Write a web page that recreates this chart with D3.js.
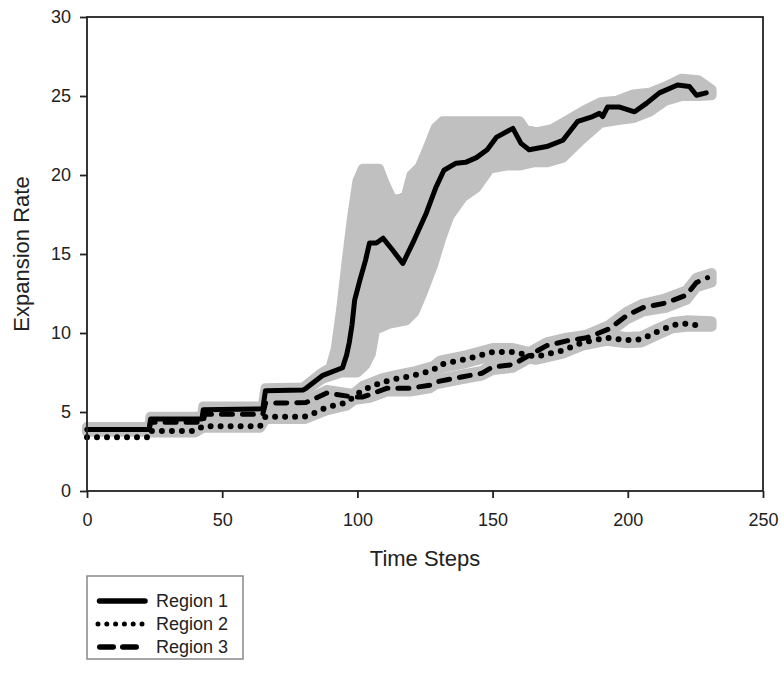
<!DOCTYPE html>
<html>
<head>
<meta charset="utf-8">
<script src="https://cdn.jsdelivr.net/npm/d3@7"></script>
<style>
  html, body { margin: 0; padding: 0; background: #fff; }
  svg { display: block; }
  text { font-family: "Liberation Sans", Arial, sans-serif; fill: #222; }
</style>
</head>
<body>
<svg id="chart" width="784" height="683"></svg>
<script>
// ---------------- data ----------------
const xTicks = [0, 50, 100, 150, 200, 250];
const yTicks = [0, 5, 10, 15, 20, 25, 30];
const seriesNames = ["Region 1", "Region 2", "Region 3"];

// Region 1 mean line
const r1T = [0, 23, 23.5, 42.5, 43, 65, 66, 80, 81, 87, 94.5, 96, 97, 98, 99, 101, 103, 104.5, 107, 109.5, 113, 116.8, 120.5, 125.5, 129, 132, 136.5, 140, 144, 148, 151.5, 157.5, 160.5, 163.5, 170, 176, 181.5, 187, 189.5, 190.7, 192.5, 197, 202.5, 207, 211.7, 218.4, 222.8, 225.4, 229];
const r1V = [3.9, 3.9, 4.55, 4.55, 5.15, 5.2, 6.35, 6.4, 6.5, 7.3, 7.8, 8.6, 9.4, 10.5, 12.1, 13.4, 14.6, 15.7, 15.7, 16.0, 15.25, 14.4, 15.7, 17.6, 19.2, 20.3, 20.75, 20.8, 21.1, 21.6, 22.4, 22.95, 22.0, 21.6, 21.8, 22.2, 23.4, 23.7, 23.9, 23.7, 24.3, 24.3, 24.0, 24.55, 25.2, 25.7, 25.6, 25.05, 25.2];
// Region 1 range (upper / lower bound)
const r1HiT = [0, 23, 23.5, 42.5, 43, 65, 66, 80, 87, 90, 92, 94, 96, 98, 100, 102, 108, 110, 113, 116, 118, 120, 123, 126, 129, 131.5, 160, 162, 166, 172, 178, 184, 190, 196, 202, 208, 214, 220, 226, 231];
const r1HiV = [4.05, 4.05, 4.7, 4.7, 5.35, 5.35, 6.5, 6.55, 7.5, 7.8, 9.0, 11.5, 14.5, 17.3, 19.6, 20.4, 20.4, 19.5, 18.4, 18.5, 18.7, 20.0, 20.5, 21.7, 23.0, 23.4, 23.4, 22.9, 22.7, 22.9, 23.5, 24.1, 24.6, 24.7, 25.1, 25.2, 25.6, 26.1, 26.0, 25.4];
const r1LoT = [0, 23, 23.5, 42.5, 43, 65, 66, 80, 87, 94, 100, 103, 105, 106.5, 112, 118, 121, 124, 128, 131, 134, 139, 144, 149, 155, 160, 165, 170, 176, 182, 190, 197, 202, 208, 214, 220, 226, 231];
const r1LoV = [3.75, 3.75, 4.4, 4.4, 5.0, 5.05, 6.2, 6.25, 7.1, 7.5, 7.5, 8.0, 8.7, 10.2, 10.6, 10.8, 11.3, 12.5, 14.3, 16.0, 17.4, 18.6, 19.2, 20.4, 20.6, 20.6, 20.8, 20.8, 21.1, 22.1, 23.3, 23.5, 23.6, 24.0, 24.7, 25.0, 25.0, 25.05];

// Region 2 mean line
const r2T = [0, 23, 23.5, 40, 43, 64, 66, 80.5, 83.6, 88.6, 96, 102, 109.5, 114.5, 120.5, 128, 130.5, 140.4, 150, 157.5, 166, 176, 183.3, 192, 199.6, 205, 210.6, 216.6, 221.7, 225.4];
const r2V = [3.4, 3.4, 3.8, 3.8, 4.1, 4.1, 4.7, 4.7, 4.9, 5.3, 5.6, 6.4, 6.9, 7.1, 7.3, 7.65, 8.0, 8.35, 8.8, 8.8, 8.5, 8.9, 9.4, 9.7, 9.55, 9.6, 10.06, 10.5, 10.6, 10.5];
// Region 2 range
const r2BandT  = [23.5, 40, 43, 64, 66, 80.5, 88.6, 96, 102, 109.5, 114.5, 120.5, 128, 130.5, 140.4, 150, 157.5, 166, 176, 183.3, 192, 199.6, 205, 210.6, 216.6, 221.7, 231];
const r2BandLo = [3.7, 3.7, 4.0, 4.0, 4.55, 4.55, 5.1, 5.4, 6.15, 6.65, 6.85, 7.05, 7.4, 7.75, 8.1, 8.55, 8.55, 8.3, 8.7, 9.2, 9.5, 9.35, 9.4, 9.85, 10.3, 10.4, 10.4];
const r2BandHi = [3.9, 3.9, 4.2, 4.2, 4.85, 4.85, 5.5, 5.8, 6.65, 7.15, 7.35, 7.55, 7.9, 8.25, 8.6, 9.05, 9.05, 8.7, 9.1, 9.6, 9.9, 9.75, 9.8, 10.25, 10.7, 10.8, 10.75];

// Region 3 mean line
const r3T = [0, 23, 23.5, 43, 43.5, 65, 66, 81, 88.7, 98.4, 102, 104.6, 110.8, 119.4, 126.8, 129, 138, 146, 150, 157.5, 163.7, 170, 177.4, 184.8, 193, 199.6, 205.5, 214, 221.7, 225.4, 229.5];
const r3V = [3.9, 3.9, 4.35, 4.35, 4.85, 4.85, 5.55, 5.6, 6.2, 5.95, 5.95, 6.1, 6.5, 6.5, 6.7, 6.9, 7.2, 7.45, 7.85, 8.0, 8.6, 9.2, 9.5, 9.7, 10.25, 11.1, 11.6, 11.9, 12.4, 13.2, 13.5];
// Region 3 range
const r3BandT  = [0, 23, 23.5, 43, 43.5, 65, 66, 81, 88.7, 98.4, 104.6, 110.8, 119.4, 126.8, 129, 138, 146, 150, 157.5, 163.7, 170, 177.4, 184.8, 193, 199.6, 205.5, 214, 221.7, 225.4, 231];
const r3BandLo = [3.8, 3.8, 4.25, 4.25, 4.75, 4.75, 5.4, 5.45, 6.0, 5.75, 5.9, 6.3, 6.3, 6.5, 6.75, 7.05, 7.3, 7.65, 7.8, 8.4, 9.0, 9.3, 9.5, 10.0, 10.85, 11.35, 11.6, 12.1, 12.9, 13.2];
const r3BandHi = [4.0, 4.0, 4.45, 4.45, 4.95, 4.95, 5.7, 5.75, 6.4, 6.15, 6.3, 6.7, 6.7, 6.9, 7.05, 7.35, 7.6, 8.05, 8.2, 8.8, 9.4, 9.7, 9.9, 10.5, 11.35, 11.85, 12.2, 12.7, 13.5, 13.8];

// ---------------- drawing ----------------
const svg = d3.select("#chart");
const x = d3.scaleLinear().domain([0, 250]).range([87, 763]);
const y = d3.scaleLinear().domain([0, 30]).range([491, 17]);

const zip = (ts, vs) => ts.map((t, i) => [t, vs[i]]);
const line = d3.line().x(d => x(d[0])).y(d => y(d[1]));

const BAND = "#c0c0c0";
function band(hiPts, loPts) {
  const pts = hiPts.concat(loPts.slice().reverse());
  svg.append("path")
    .attr("d", line(pts) + "Z")
    .attr("fill", BAND)
    .attr("stroke", BAND)
    .attr("stroke-width", 10)
    .attr("stroke-linejoin", "round")
    .attr("stroke-linecap", "round");
}
band(zip(r1HiT, r1HiV), zip(r1LoT, r1LoV));
band(zip(r2BandT, r2BandHi), zip(r2BandT, r2BandLo));
band(zip(r3BandT, r3BandHi), zip(r3BandT, r3BandLo));

const styles = [
  { dash: null, cap: "round" },
  { dash: "0 10", cap: "round" },
  { dash: "11 10", cap: "round" }
];
const lineData = [zip(r1T, r1V), zip(r2T, r2V), zip(r3T, r3V)];
[2, 1, 0].forEach(i => {
  svg.append("path")
    .attr("d", line(lineData[i]))
    .attr("fill", "none")
    .attr("stroke", "#000")
    .attr("stroke-width", i === 1 ? 6 : 5)
    .attr("stroke-linejoin", "round")
    .attr("stroke-linecap", styles[i].cap)
    .attr("stroke-dasharray", styles[i].dash);
});

// axes
const xAxis = svg.append("g").attr("transform", "translate(0,491)")
  .call(d3.axisBottom(x).tickValues(xTicks).tickSize(7).tickPadding(15).tickSizeOuter(0));
const yAxis = svg.append("g").attr("transform", "translate(87,0)")
  .call(d3.axisLeft(y).tickValues(yTicks).tickSize(7).tickPadding(9).tickSizeOuter(0));
[xAxis, yAxis].forEach(g => {
  g.select(".domain").remove();
  g.selectAll("line").attr("stroke", "#222").attr("stroke-width", 1.8);
  g.selectAll("text").style("font-family", "'Liberation Sans', Arial, sans-serif")
    .style("font-size", "18px").attr("fill", "#222");
});
// frame
svg.append("rect").attr("x", 87).attr("y", 17).attr("width", 676).attr("height", 474)
  .attr("fill", "none").attr("stroke", "#222").attr("stroke-width", 1.8);

// axis titles
svg.append("text").attr("x", 425).attr("y", 566).attr("text-anchor", "middle")
  .style("font-size", "22px").text("Time Steps");
svg.append("text").attr("transform", "translate(29,254) rotate(-90)")
  .attr("text-anchor", "middle").style("font-size", "22px").text("Expansion Rate");

// legend
const lg = svg.append("g");
lg.append("rect").attr("x", 87).attr("y", 576).attr("width", 156).attr("height", 83)
  .attr("fill", "#fff").attr("stroke", "#888").attr("stroke-width", 1.5);
const legY = [601, 624, 647];
const legDash = [null, "0 8.8", "13.5 9.5"];
const legX1 = [99.5, 98, 99.75];
const legX2 = [145, 143, 136.25];
seriesNames.forEach((name, i) => {
  lg.append("line").attr("x1", legX1[i]).attr("x2", legX2[i])
    .attr("y1", legY[i]).attr("y2", legY[i])
    .attr("stroke", "#000").attr("stroke-width", i === 1 ? 5 : 5.5)
    .attr("stroke-linecap", "round").attr("stroke-dasharray", legDash[i]);
  lg.append("text").attr("x", 156).attr("y", legY[i]).attr("dy", "0.36em")
    .style("font-size", "18px").text(name);
});
</script>
</body>
</html>
